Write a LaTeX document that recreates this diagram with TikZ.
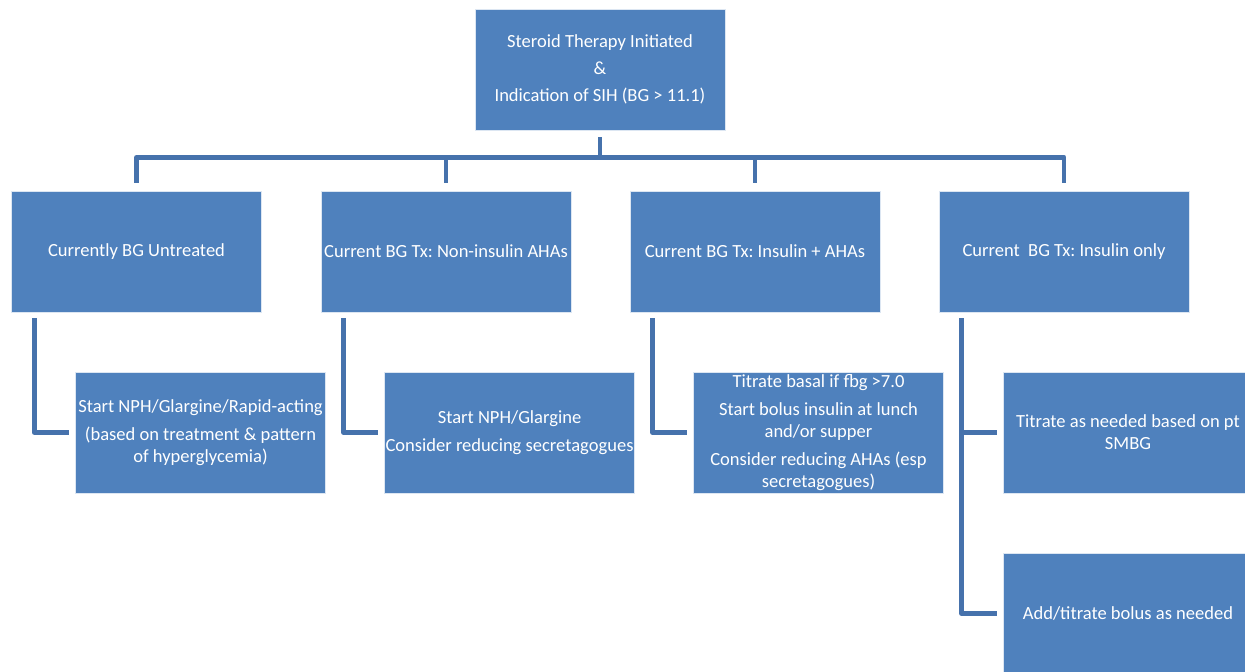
\documentclass[tikz,border=0pt]{standalone}
\usepackage{fontspec}
\setmainfont{Carlito}
\frenchspacing
\definecolor{boxblue}{HTML}{4F81BD}
\definecolor{lineblue}{HTML}{4672AC}
\begin{document}
\begin{tikzpicture}[x=0.75pt,y=-0.75pt,box_node/.style={rectangle,fill=boxblue,draw=white!80!boxblue,line width=0.6pt,minimum width=187.5pt,minimum height=90.75pt,inner sep=0pt,align=center,text=white,font=\fontsize{13.9}{16.5}\selectfont},link/.style={draw=lineblue,line width=3.6pt,line join=round}]
		
		\clip (0,0) rectangle (1245,671);
		
		\node[box_node] (top) at (600,69.5) {Steroid Therapy Initiated\\[4pt] \&\\[4pt] Indication of SIH (BG > 11.1)};
		\node[box_node] (c1) at (136.5,251.5) {Currently BG Untreated};
		\node[box_node] (c2) at (446,251.5) {Current BG Tx: Non-insulin AHAs};
		\node[box_node] (c3) at (755,251.5) {Current BG Tx: Insulin + AHAs};
		\node[box_node] (c4) at (1064,251.5) {Current\ \ BG Tx: Insulin only};
		\node[box_node] (s1) at (200.5,432.5) {Start NPH/Glargine/Rapid-acting\\[4.5pt] (based on treatment \& pattern\\ of hyperglycemia)};
		\node[box_node] (s2) at (509.5,432.5) {Start NPH/Glargine\\[4.5pt] Consider reducing secretagogues};
		\node[box_node] (s3) at (818.5,432.5) {Titrate basal if fbg >7.0\\[4.5pt] Start bolus insulin at lunch\\ and/or supper\\[4.5pt] Consider reducing AHAs (esp\\ secretagogues)};
		\node[box_node] (s4a) at (1128,432.5) {Titrate as needed based on pt\\ SMBG};
		\node[box_node] (s4b) at (1128,613.5) {Add/titrate bolus as needed};
		
		\draw[link,shorten <=5.25pt] (top.south) -- ++(0,27) coordinate (bus);
		\draw[link,shorten <=6pt,shorten >=6pt] (c1.north) -- (c1.north |- bus) -- (c4.north |- bus) -- (c4.north);
		\draw[link,shorten >=6pt] (c2.north |- bus) -- (c2.north);
		\draw[link,shorten >=6pt] (c3.north |- bus) -- (c3.north);
		
		\draw[link,shorten <=4.5pt,shorten >=4.5pt] ([xshift=17.25pt]c1.south west) |- (s1.west);
		\draw[link,shorten <=4.5pt,shorten >=4.5pt] ([xshift=17.25pt]c2.south west) |- (s2.west);
		\draw[link,shorten <=4.5pt,shorten >=4.5pt] ([xshift=17.25pt]c3.south west) |- (s3.west);
		\draw[link,shorten <=4.5pt,shorten >=4.5pt] ([xshift=17.25pt]c4.south west) |- (s4b.west);
		\draw[link,shorten >=4.5pt] ([xshift=17.25pt]c4.south west |- s4a.west) -- (s4a.west);
		\end{tikzpicture}
\end{document}
